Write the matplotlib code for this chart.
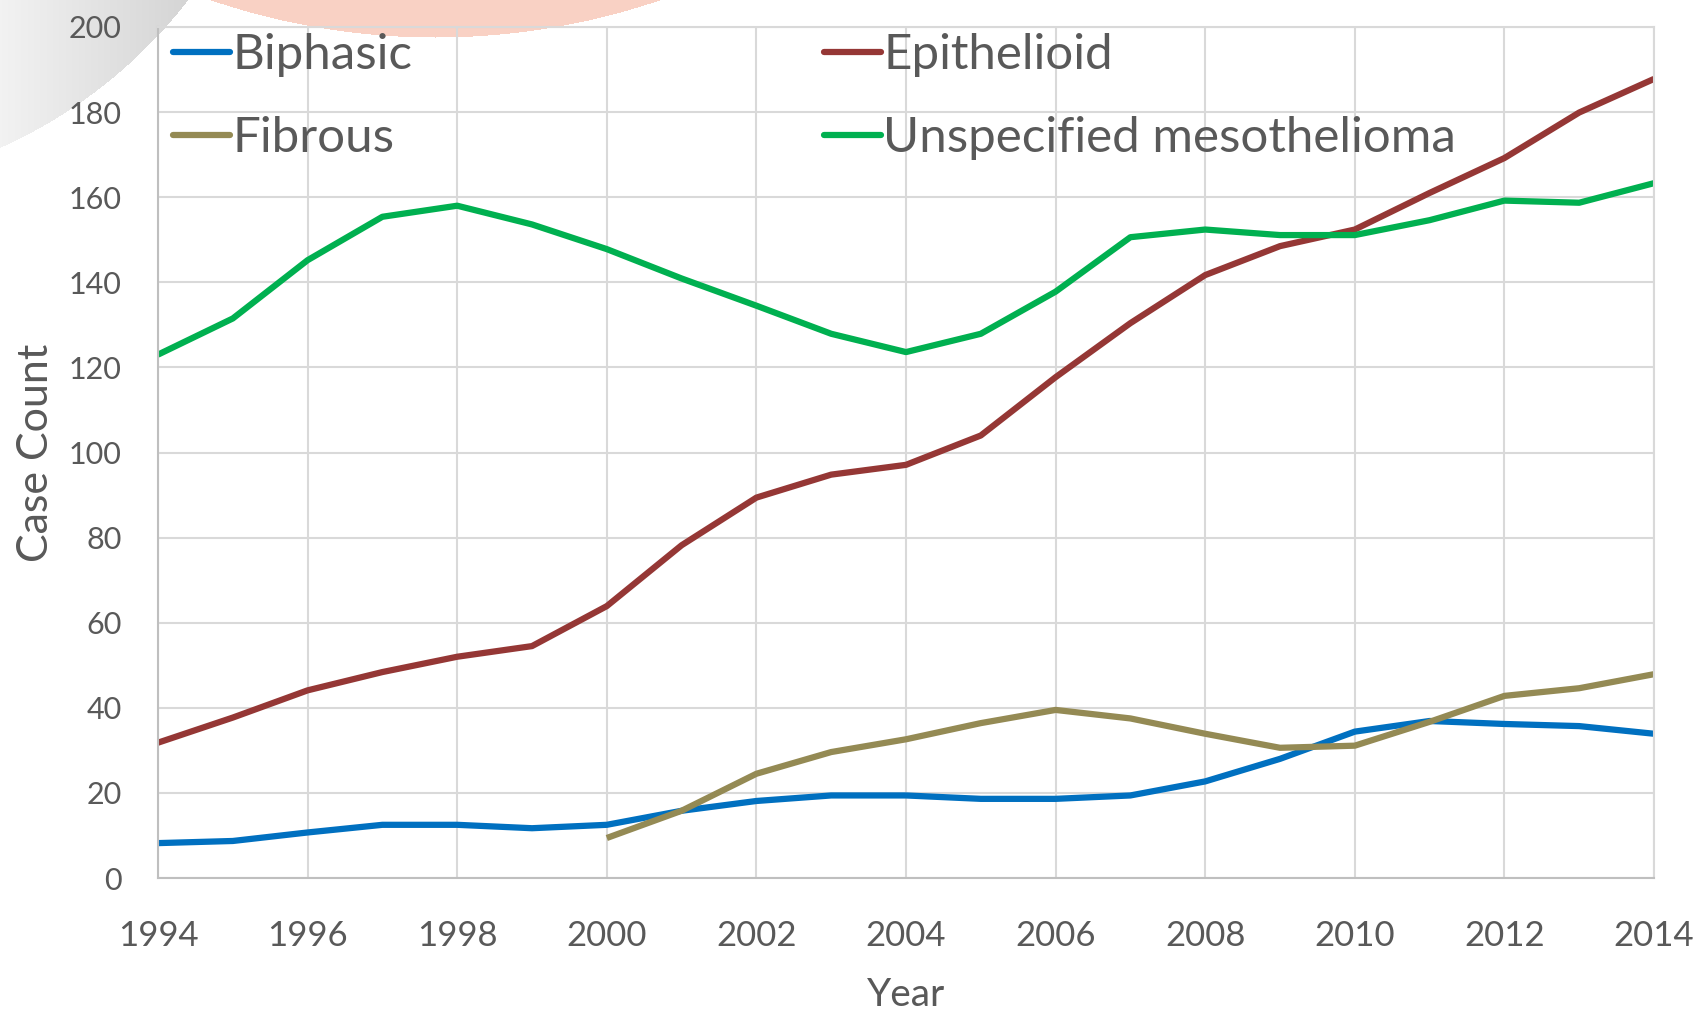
import matplotlib
matplotlib.use('Agg')
import matplotlib.pyplot as plt
import numpy as np

plt.rcParams['font.family'] = ['Lato', 'DejaVu Sans']

# Data
years = list(range(1994, 2015))
biphasic = [8.2, 8.7, 10.7, 12.5, 12.5, 11.7, 12.5, 15.8, 18.1, 19.4, 19.4,
            18.6, 18.6, 19.4, 22.7, 28.0, 34.4, 36.9, 36.2, 35.7, 33.9]
epithelioid = [31.8, 37.7, 44.1, 48.4, 52.0, 54.5, 63.9, 78.2, 89.4, 94.8, 97.1,
               104.0, 117.7, 130.4, 141.7, 148.5, 152.4, 161.0, 169.2, 179.9, 187.8]
fibrous_years = list(range(2000, 2015))
fibrous = [9.4, 15.8, 24.5, 29.6, 32.6, 36.4, 39.5, 37.5, 33.9, 30.6, 31.1,
           36.7, 42.8, 44.6, 47.9]
unspecified = [123.0, 131.5, 145.2, 155.4, 158.0, 153.6, 147.8, 140.9, 134.5, 127.9, 123.6,
               127.9, 137.8, 150.6, 152.4, 151.1, 151.1, 154.6, 159.2, 158.7, 163.3]

x_ticks = list(range(1994, 2015, 2))
y_ticks = list(range(0, 201, 20))

txt = '#595959'
grid_c = '#d9d9d9'

W, H = 1700, 1010
fig = plt.figure(figsize=(17, 10.1), dpi=100)

# slide background: grey disc in the top-left corner and a peach disc at the top
bg = fig.add_axes([0, 0, 1, 1], zorder=-1)
bg.set_axis_off()
yy, xx = np.mgrid[0:H, 0:W]
img = np.ones((H, W, 3))
grey_in = (xx + 200) ** 2 + (yy + 300) ** 2 <= 490 ** 2
shade = np.clip(0.95 - 0.12 * xx / 195.0, 0.83, 0.95)
img[grey_in] = np.stack([shade[grey_in]] * 3, axis=-1)
peach_in = (xx - 435) ** 2 + (yy + 660) ** 2 <= 697 ** 2
img[peach_in] = np.array([0.98, 0.82, 0.77])
bg.imshow(img, extent=(0, W, H, 0), aspect='auto', interpolation='bilinear')

ax = fig.add_axes([158 / W, 1 - 878 / H, (1654 - 158) / W, (878 - 27) / H], zorder=1)
ax.set_facecolor('none')

lw = 4.5
l_b, = ax.plot(years, biphasic, color='#0070c0', lw=lw, solid_capstyle='butt', label='Biphasic')
l_e, = ax.plot(years, epithelioid, color='#953735', lw=lw, solid_capstyle='butt', label='Epithelioid')
l_f, = ax.plot(fibrous_years, fibrous, color='#948a54', lw=lw, solid_capstyle='butt', label='Fibrous')
l_u, = ax.plot(years, unspecified, color='#00b050', lw=lw, solid_capstyle='butt',
               label='Unspecified mesothelioma')

ax.set_xlim(1994, 2014)
ax.set_ylim(0, 200)
ax.set_xticks(x_ticks)
ax.set_yticks(y_ticks)
ax.grid(True, color=grid_c, lw=1.5)
ax.set_axisbelow(True)
for s in ax.spines.values():
    s.set_color(grid_c)
    s.set_linewidth(1.5)
ax.spines['left'].set_color('#bfbfbf')
ax.spines['bottom'].set_color('#bfbfbf')
ax.tick_params(axis='both', length=0, colors=txt)
ax.tick_params(axis='x', labelsize=25, pad=30)
ax.tick_params(axis='y', labelsize=22, pad=26)

ax.set_xlabel('Year', fontsize=28, color=txt, labelpad=18)
ax.set_ylabel('Case Count', fontsize=31, color=txt, labelpad=10)

leg_kw = dict(frameon=False, fontsize=35.5, handlelength=1.16, handletextpad=0.05,
              labelspacing=0.8, borderaxespad=0, borderpad=0, labelcolor=txt)
leg1 = ax.legend([l_b, l_f], ['Biphasic', 'Fibrous'], loc='upper left',
                 bbox_to_anchor=(0.010, 0.993), **leg_kw)
for h in leg1.legend_handles:
    h.set_solid_capstyle('round')
ax.add_artist(leg1)
leg2 = ax.legend([l_e, l_u], ['Epithelioid', 'Unspecified mesothelioma'], loc='upper left',
                 bbox_to_anchor=(0.445, 0.993), **leg_kw)
for h in leg2.legend_handles:
    h.set_solid_capstyle('round')

fig.savefig('out.png', dpi=100)
